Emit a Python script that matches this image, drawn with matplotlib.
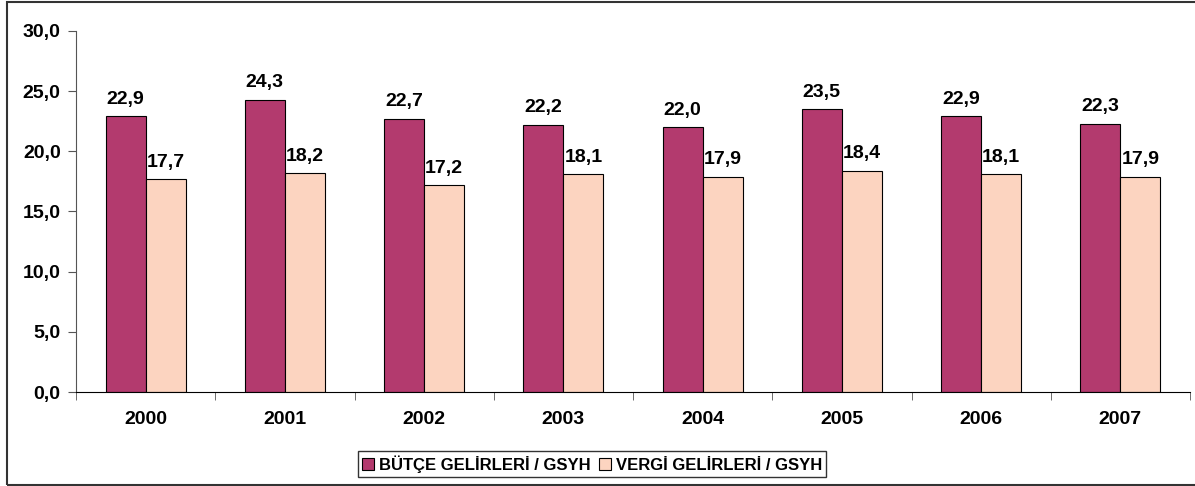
import matplotlib
matplotlib.use("Agg")
import matplotlib.pyplot as plt
import matplotlib.patches as mpatches
import numpy as np

plt.rcParams['font.family'] = ['Liberation Sans', 'DejaVu Sans']
plt.rcParams['font.weight'] = 'bold'

years = ["2000", "2001", "2002", "2003", "2004", "2005", "2006", "2007"]
butce = [22.9, 24.3, 22.7, 22.2, 22.0, 23.5, 22.9, 22.3]
vergi = [17.7, 18.2, 17.2, 18.1, 17.9, 18.4, 18.1, 17.9]
series_names = ["BÜTÇE GELİRLERİ / GSYH", "VERGİ GELİRLERİ / GSYH"]
colors = ["#B33A6E", "#FCD4C0"]

W, H = 1195, 486
fig = plt.figure(figsize=(W / 100, H / 100), dpi=100)
ax = fig.add_axes([76 / W, 1 - 392 / H, (1190 - 76) / W, (392 - 31) / H])

x = np.arange(len(years))
bw = 0.288
b1 = ax.bar(x - bw / 2, butce, bw, color=colors[0], edgecolor="black", linewidth=0.8, label=series_names[0])
b2 = ax.bar(x + bw / 2, vergi, bw, color=colors[1], edgecolor="black", linewidth=0.8, label=series_names[1])

fmt = lambda v: f"{v:.1f}".replace(".", ",")
for bars, vals in ((b1, butce), (b2, vergi)):
    for r, v in zip(bars, vals):
        ax.text(r.get_x() + r.get_width() / 2, v + 0.7, fmt(v), ha="center", va="bottom",
                fontsize=14, fontweight="bold")

ax.set_xlim(-0.5, len(years) - 0.5)
ax.set_ylim(0, 30)
ax.set_yticks(np.arange(0, 30.1, 5))
ax.set_yticklabels([fmt(v) for v in np.arange(0, 30.1, 5)], fontsize=14, fontweight="bold")
ax.set_xticks(x)
ax.set_xticklabels(years, fontsize=14, fontweight="bold")
ax.tick_params(axis="x", length=0, pad=14)
ax.set_xticks(np.arange(-0.5, len(years), 1), minor=True)
ax.tick_params(axis="x", which="minor", length=6, direction="out", color="#555555")
ax.tick_params(axis="y", length=6, direction="out", color="#555555", pad=5)

ax.spines["top"].set_visible(False)
ax.spines["right"].set_visible(False)
ax.spines["left"].set_color("#555555")
ax.spines["bottom"].set_color("black")

leg = fig.legend(handles=[b1, b2], labels=series_names, loc="center",
                 bbox_to_anchor=(592 / W, 1 - 464 / H), ncol=2, frameon=True, fancybox=False,
                 edgecolor="black", fontsize=12, handlelength=0.7, handleheight=0.7,
                 handletextpad=0.3, columnspacing=0.5, borderpad=0.25, borderaxespad=0)
for t in leg.get_texts():
    t.set_fontweight("bold")
leg.get_frame().set_linewidth(1.0)

border = mpatches.Rectangle((7 / W, 1 - 485 / H), (1200 - 7) / W, (485 - 2) / H,
                            transform=fig.transFigure, fill=False, edgecolor="#333333",
                            linewidth=1.5, clip_on=False)
fig.patches.append(border)

fig.savefig("out.png", dpi=100)
